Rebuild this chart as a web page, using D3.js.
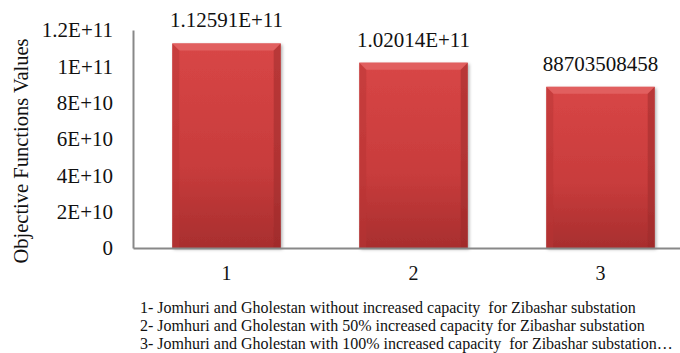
<!DOCTYPE html>
<html><head><meta charset="utf-8">
<script src="https://cdn.jsdelivr.net/npm/d3@7"></script>
<style>body{margin:0;background:#fff}svg{display:block}text{font-family:"Liberation Serif","Times New Roman",serif;fill:#111}</style>
</head><body>
<script>
const categories = ["1", "2", "3"];
const values = [112591000000, 102014000000, 88703508458];
const valueLabels = ["1.12591E+11", "1.02014E+11", "88703508458"];
const yTicks = [0, 2e10, 4e10, 6e10, 8e10, 1e11, 1.2e11];
const yTickLabels = ["0", "2E+10", "4E+10", "6E+10", "8E+10", "1E+11", "1.2E+11"];
const yTitle = "Objective Functions Values";
const notes = [
  "1- Jomhuri and Gholestan without increased capacity  for Zibashar substation",
  "2- Jomhuri and Gholestan with 50% increased capacity for Zibashar substation",
  "3- Jomhuri and Gholestan with 100% increased capacity  for Zibashar substation\u2026"
];

const W = 680, H = 353;
const FF = "'Liberation Serif','Times New Roman',serif";
const svg = d3.select("body").append("svg").attr("width", W).attr("height", H);
const defs = svg.append("defs");
const g1 = defs.append("linearGradient").attr("id","barg").attr("x1",0).attr("y1",0).attr("x2",0).attr("y2",1);
g1.append("stop").attr("offset","0%").attr("stop-color","#d84646");
g1.append("stop").attr("offset","60%").attr("stop-color","#c83c3c");
g1.append("stop").attr("offset","100%").attr("stop-color","#a82e2e");
const f = defs.append("filter").attr("id","sh").attr("x","-10%").attr("y","-10%").attr("width","130%").attr("height","130%");
f.append("feDropShadow").attr("dx",1.5).attr("dy",1.5).attr("stdDeviation",1.5).attr("flood-color","#000").attr("flood-opacity",0.3);

const x = d3.scaleBand().domain(categories).range([133, 694]).paddingInner(0.42).paddingOuter(0.21);
const y = d3.scaleLinear().domain([0, 1.2e11]).range([248, 30]);

// y axis
const ya = svg.append("g").attr("transform","translate(133,0)")
  .call(d3.axisLeft(y).tickValues(yTicks).tickFormat((d,i)=>yTickLabels[i]).tickSize(0).tickPadding(20));
ya.select(".domain").attr("stroke","#888").attr("stroke-width",2);
ya.selectAll("text").style("font-family",FF).style("font-size","21px").attr("fill","#111").attr("dy","0.33em");

// bars
const bw = x.bandwidth(), bev = 7;
const bars = svg.append("g").selectAll("g").data(values).join("g").attr("filter","url(#sh)");
bars.append("rect")
  .attr("x",(d,i)=>x(categories[i])).attr("y",d=>y(d))
  .attr("width",bw).attr("height",d=>y(0)-y(d)).attr("fill","url(#barg)");
bars.append("path").attr("d",(d,i)=>{const x0=x(categories[i]),y0=y(d);
  return `M${x0},${y0}L${x0+bw},${y0}L${x0+bw-bev},${y0+bev}L${x0+bev},${y0+bev}Z`;})
  .attr("fill","#e26262").attr("opacity",0.9);
bars.append("path").attr("d",(d,i)=>{const x0=x(categories[i]),y0=y(d);
  return `M${x0},${y0}L${x0+bev},${y0+bev}L${x0+bev},${y(0)}L${x0},${y(0)}Z`;})
  .attr("fill","#b83434").attr("opacity",0.5);
bars.append("path").attr("d",(d,i)=>{const x0=x(categories[i])+bw,y0=y(d);
  return `M${x0},${y0}L${x0-bev},${y0+bev}L${x0-bev},${y(0)}L${x0},${y(0)}Z`;})
  .attr("fill","#9a2a2a").attr("opacity",0.5);

// x axis
const xa = svg.append("g").attr("transform","translate(0,248)")
  .call(d3.axisBottom(x).tickSize(0).tickPadding(0));
xa.select(".domain").attr("stroke","#888").attr("stroke-width",2);
xa.selectAll("text").style("font-family",FF).style("font-size","20px").attr("fill","#111").attr("dy",0).attr("y",32);

// value labels
svg.append("g").selectAll("text").data(values).join("text")
  .attr("x",(d,i)=>x(categories[i])+bw/2).attr("y",d=>y(d)-16)
  .attr("text-anchor","middle").style("font-family",FF).style("font-size","21px").text((d,i)=>valueLabels[i]);

// y title
svg.append("text").attr("transform","translate(28,151) rotate(-90)")
  .attr("text-anchor","middle").style("font-family",FF).style("font-size","20.5px").text(yTitle);

// notes
svg.append("g").selectAll("text").data(notes).join("text")
  .attr("x",140).attr("y",(d,i)=>313+i*18).style("font-family",FF).style("font-size","16px")
  .style("white-space","pre").text(d=>d);
</script>
</body></html>
